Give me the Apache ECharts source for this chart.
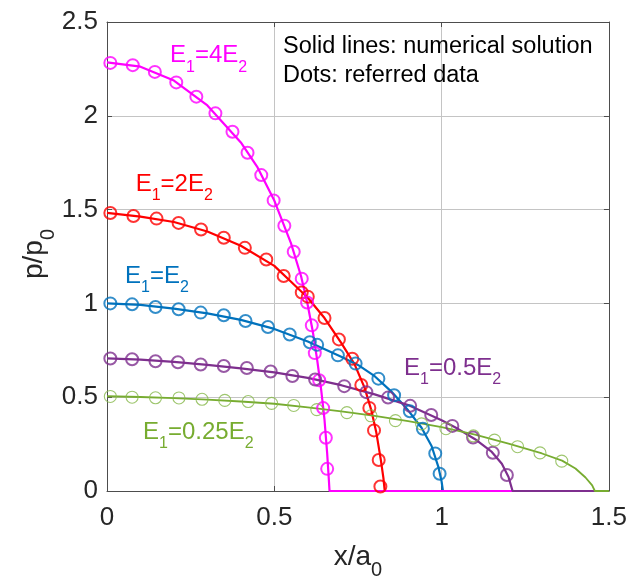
<!DOCTYPE html>
<html>
<head>
<meta charset="utf-8">
<script src="https://cdn.jsdelivr.net/npm/echarts@6/dist/echarts.min.js"></script>
<style>html,body{margin:0;padding:0;background:#fff}#c{width:630px;height:582px}</style>
</head>
<body>
<div id="c"></div>
<script>
// ---- data ----
const xTicks = [0, 0.5, 1, 1.5];
const yTicks = [0, 0.5, 1, 1.5, 2, 2.5];

// numerical solution lines
const magLineX = [0,0.1,0.2,0.3,0.4,0.45,0.5,0.55,0.58,0.6,0.615,0.628,0.64,0.65,0.658,0.663,0.665,1.5];
const magLineY = [2.285,2.262,2.188,2.055,1.858,1.725,1.548,1.32,1.145,0.99,0.85,0.7,0.54,0.38,0.2,0.06,0,0];
const redLineX = [0,0.1,0.2,0.3,0.4,0.5,0.55,0.6,0.65,0.7,0.74,0.77,0.79,0.805,0.818,0.826,0.83,1.5];
const redLineY = [1.483,1.463,1.434,1.383,1.307,1.2,1.115,1.03,0.922,0.79,0.675,0.55,0.43,0.31,0.17,0.07,0,0];
const bluLineX = [0,0.1,0.2,0.3,0.4,0.5,0.6,0.7,0.75,0.8,0.85,0.9,0.94,0.97,0.99,1.0,1.004,1.5];
const bluLineY = [1.0,0.992,0.972,0.947,0.912,0.864,0.797,0.716,0.672,0.612,0.53,0.43,0.337,0.24,0.13,0.05,0,0];
const purLineX = [0,0.1,0.2,0.3,0.4,0.5,0.6,0.7,0.8,0.9,1.0,1.05,1.1,1.15,1.18,1.2,1.212,1.5];
const purLineY = [0.707,0.7,0.688,0.672,0.654,0.632,0.603,0.564,0.515,0.458,0.377,0.33,0.276,0.208,0.145,0.075,0,0];
const grnLineX = [0,0.1,0.2,0.3,0.4,0.5,0.6,0.7,0.8,0.9,1.0,1.1,1.2,1.3,1.36,1.4,1.43,1.45,1.458,1.5];
const grnLineY = [0.505,0.501,0.495,0.487,0.477,0.465,0.446,0.425,0.4,0.372,0.34,0.3,0.252,0.2,0.162,0.12,0.072,0.03,0,0];

// referred data (dots)
const magDotX = [0.01,0.077,0.143,0.207,0.267,0.324,0.375,0.42,0.461,0.498,0.53,0.558,0.582,0.598,0.612,0.621,0.634,0.646,0.654,0.658];
const magDotY = [2.282,2.27,2.234,2.178,2.102,2.013,1.915,1.803,1.684,1.549,1.414,1.275,1.132,1.005,0.883,0.735,0.59,0.442,0.284,0.118];
const redDotX = [0.01,0.079,0.148,0.214,0.281,0.349,0.412,0.476,0.528,0.582,0.6,0.65,0.693,0.733,0.76,0.784,0.798,0.812,0.817];
const redDotY = [1.482,1.466,1.452,1.429,1.394,1.35,1.296,1.234,1.146,1.058,1.036,0.922,0.808,0.705,0.565,0.443,0.323,0.165,0.024];
const bluDotX = [0.01,0.075,0.145,0.214,0.28,0.349,0.414,0.481,0.546,0.606,0.628,0.69,0.743,0.811,0.858,0.905,0.944,0.981,0.994];
const bluDotY = [1.0,0.995,0.981,0.969,0.951,0.937,0.906,0.874,0.834,0.793,0.779,0.723,0.679,0.599,0.51,0.425,0.332,0.2,0.092];
const purDotX = [0.01,0.075,0.145,0.212,0.28,0.349,0.418,0.489,0.554,0.622,0.709,0.775,0.84,0.906,0.969,1.032,1.094,1.153,1.195];
const purDotY = [0.706,0.702,0.692,0.686,0.674,0.666,0.656,0.637,0.613,0.594,0.559,0.527,0.498,0.454,0.405,0.347,0.285,0.204,0.085];
const grnDotX = [0.01,0.075,0.145,0.215,0.284,0.352,0.422,0.492,0.558,0.627,0.717,0.789,0.862,0.94,1.013,1.095,1.158,1.227,1.294,1.359];
const grnDotY = [0.504,0.5,0.497,0.496,0.489,0.483,0.477,0.467,0.456,0.434,0.418,0.401,0.375,0.358,0.332,0.294,0.271,0.236,0.203,0.159];

const labels = ['E1=4E2','E1=2E2','E1=E2','E1=0.5E2','E1=0.25E2'];
const noteLines = ['Solid lines: numerical solution','Dots: referred data'];

// ---- styling ----
const FF = "'Liberation Sans', Arial, Helvetica, sans-serif";
const C = {mag:'#FF00FF', red:'#FF0000', blu:'#0072BD', pur:'#7E2F8E', grn:'#77AC30'};
const zip = (xs, ys) => xs.map((x, i) => [x, ys[i]]);

function lineS(xs, ys, color, w, z) {
  return {type:'line', data: zip(xs, ys), showSymbol:false, symbol:'none', clip:false, z:z,
    lineStyle:{color:color, width:w}, smooth:false, animation:false};
}
function dotS(xs, ys, color, w, size, z) {
  return {type:'scatter', data: zip(xs, ys), symbol:'circle', symbolSize:size, clip:false, z:z,
    itemStyle:{color:'rgba(0,0,0,0)', borderColor:color, borderWidth:w}, animation:false};
}
function richEq(s) {
  const m = s.match(/^E1=(.*)E2$/);
  return '{a|E}{s|1}{a|=' + m[1] + 'E}{s|2}';
}
function eqText(s, x, y, color) {
  return {type:'text', x:x, y:y, z:10,
    style:{text: richEq(s), fill:color, font:'24px ' + FF, verticalAlign:'top', align:'left',
      rich:{a:{fontSize:24, lineHeight:24, fontFamily:FF, fill:color, verticalAlign:'top'},
            s:{fontSize:16, lineHeight:16, fontFamily:FF, fill:color, verticalAlign:'top', padding:[15.5,0,0,0]}}}};
}

const chart = echarts.init(document.getElementById('c'), null, {renderer:'canvas'});
const axisCol = '#4d4d4d';
const option = {
  animation:false,
  backgroundColor:'#fff',
  grid:{left:107, top:22, width:503, height:469, containLabel:false},
  xAxis:[
    {type:'value', min:xTicks[0], max:xTicks[xTicks.length-1], interval:0.5, position:'bottom',
     axisLine:{onZero:false, lineStyle:{color:axisCol, width:1}},
     axisTick:{inside:true, length:5, lineStyle:{color:axisCol}},
     axisLabel:{fontSize:26, fontFamily:FF, color:'#262626', margin:14},
     splitLine:{show:true, lineStyle:{color:'#c4c4c4', width:1}}},
    {type:'value', min:xTicks[0], max:xTicks[xTicks.length-1], interval:0.5, position:'top',
     axisLine:{onZero:false, lineStyle:{color:axisCol, width:1}},
     axisTick:{inside:true, length:5, lineStyle:{color:axisCol}},
     axisLabel:{show:false}, splitLine:{show:false}}
  ],
  yAxis:[
    {type:'value', min:yTicks[0], max:yTicks[yTicks.length-1], interval:0.5, position:'left',
     axisLine:{show:true, onZero:false, lineStyle:{color:axisCol, width:1}},
     axisTick:{show:true, inside:true, length:5, lineStyle:{color:axisCol}},
     axisLabel:{fontSize:26, fontFamily:FF, color:'#262626', margin:9},
     splitLine:{show:true, lineStyle:{color:'#c4c4c4', width:1}}},
    {type:'value', min:yTicks[0], max:yTicks[yTicks.length-1], interval:0.5, position:'right',
     axisLine:{show:true, onZero:false, lineStyle:{color:axisCol, width:1}},
     axisTick:{show:true, inside:true, length:5, lineStyle:{color:axisCol}},
     axisLabel:{show:false}, splitLine:{show:false}}
  ],
  series:[
    lineS(redLineX, redLineY, C.red, 2.2, 2),
    lineS(bluLineX, bluLineY, C.blu, 2.2, 2),
    lineS(magLineX, magLineY, C.mag, 2.2, 2),
    lineS(purLineX, purLineY, C.pur, 2.2, 2),
    lineS(grnLineX, grnLineY, C.grn, 1.8, 2),
    dotS(redDotX, redDotY, C.red, 2, 12, 3),
    dotS(bluDotX, bluDotY, C.blu, 2, 12, 3),
    dotS(magDotX, magDotY, C.mag, 2, 12, 3),
    dotS(purDotX, purDotY, C.pur, 2, 12, 3),
    dotS(grnDotX, grnDotY, '#86b84a', 1.1, 12, 3)
  ],
  graphic:[
    eqText(labels[0], 170, 43.7, C.mag),
    eqText(labels[1], 135.7, 172.3, C.red),
    eqText(labels[2], 125, 264.5, C.blu),
    eqText(labels[3], 404, 356.3, C.pur),
    eqText(labels[4], 143, 420, C.grn),
    {type:'text', x:283, y:47, z:10, style:{text:noteLines[0], fill:'#000', font:'23.5px ' + FF, align:'left', verticalAlign:'middle'}},
    {type:'text', x:283, y:76, z:10, style:{text:noteLines[1], fill:'#000', font:'23.5px ' + FF, align:'left', verticalAlign:'middle'}},
    {type:'text', x:358, y:543, z:10, style:{text:'{a|x/a}{s|0}', fill:'#262626', font:'28px ' + FF, align:'center', verticalAlign:'top',
      rich:{a:{fontSize:28, lineHeight:28, fontFamily:FF, fill:'#262626', verticalAlign:'top'},
            s:{fontSize:20, lineHeight:20, fontFamily:FF, fill:'#262626', verticalAlign:'top', padding:[17.4,0,0,0]}}}},
    {type:'text', x:34.7, y:254, rotation:Math.PI/2, z:10, style:{text:'{a|p/p}{s|0}', fill:'#262626', font:'28px ' + FF, align:'center', verticalAlign:'middle',
      rich:{a:{fontSize:28, lineHeight:28, fontFamily:FF, fill:'#262626', verticalAlign:'top'},
            s:{fontSize:20, lineHeight:20, fontFamily:FF, fill:'#262626', verticalAlign:'top', padding:[17.4,0,0,0]}}}}
  ]
};
chart.setOption(option);
</script>
</body>
</html>
